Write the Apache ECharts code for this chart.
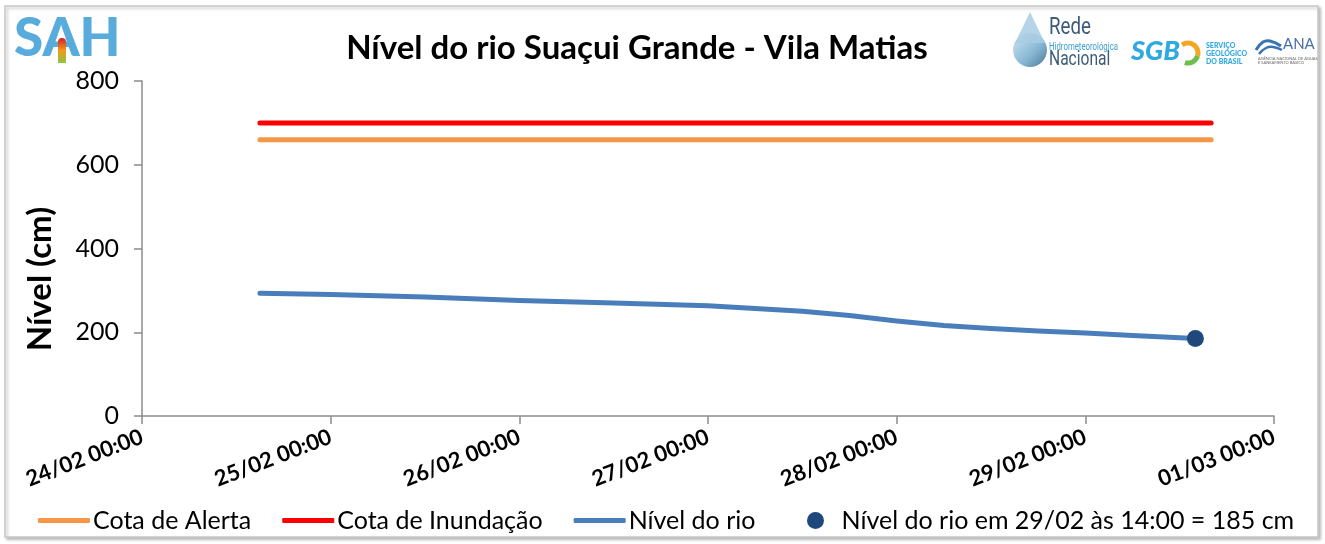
<!DOCTYPE html>
<html>
<head>
<meta charset="utf-8">
<script src="https://cdn.jsdelivr.net/npm/echarts@6/dist/echarts.min.js"></script>
<style>
html,body{margin:0;padding:0;background:#fff;}
#chart{width:1325px;height:544px;}
</style>
</head>
<body>
<div id="chart"></div>
<script>
// ---- Data ----
const titleText = 'Nível do rio Suaçui Grande - Vila Matias';
const yAxisTitle = 'Nível (cm)';
const xTickStart = '2024-02-24 00:00';
const xTickEnd = '2024-03-01 00:00';
const yTicks = [0, 200, 400, 600, 800];

const nivelTimes = ['2024-02-24 15:00','2024-02-25 00:00','2024-02-25 12:00','2024-02-26 00:00','2024-02-26 12:00',
  '2024-02-27 00:00','2024-02-27 06:00','2024-02-27 12:00','2024-02-27 18:00','2024-02-28 00:00',
  '2024-02-28 06:00','2024-02-28 12:00','2024-02-28 18:00','2024-02-29 00:00','2024-02-29 06:00','2024-02-29 14:00'];
const nivelValues = [293, 290, 284, 276, 270, 263, 257, 250, 240, 227, 216, 209, 203, 198, 192, 185];

const cotaTimes = ['2024-02-24 15:00', '2024-02-29 16:00'];
const cotaAlerta = [660, 660];
const cotaInundacao = [700, 700];

const ultimaTime = '2024-02-29 14:00';
const ultimaValue = 185;

const legendNames = ['Cota de Alerta', 'Cota de Inundação', 'Nível do rio', 'Nível do rio em 29/02 às 14:00 = 185 cm'];

// ---- Helpers ----
function ts(s) { return Date.parse(s.replace(' ', 'T') + ':00Z'); }
function pad(n) { return (n < 10 ? '0' : '') + n; }
function fmt(v) {
  const d = new Date(v);
  return pad(d.getUTCDate()) + '/' + pad(d.getUTCMonth() + 1) + ' ' + pad(d.getUTCHours()) + ':' + pad(d.getUTCMinutes());
}
const DAY = 86400000;

const chart = echarts.init(document.getElementById('chart'), null, {renderer: 'canvas'});
const F = 'Lato, "Open Sans", sans-serif';

const option = {
  backgroundColor: '#fff',
  animation: false,
  title: {
    text: titleText,
    left: 632, textAlign: 'center', top: 27,
    textStyle: {fontFamily: F, fontWeight: 'bold', fontSize: 33, color: '#000'}
  },
  grid: {left: 142, right: 51, top: 81, bottom: 128},
  xAxis: {
    type: 'value',
    min: ts(xTickStart), max: ts(xTickEnd), interval: DAY,
    axisLine: {show: true, lineStyle: {color: '#8c8c8c', width: 1.5}},
    axisTick: {show: true, length: 8, lineStyle: {color: '#8c8c8c', width: 1.5}},
    splitLine: {show: false},
    axisLabel: {
      rotate: 21, margin: 20, formatter: fmt,
      fontFamily: F, fontWeight: 'bold', fontSize: 22, color: '#000'
    }
  },
  yAxis: {
    type: 'value', min: yTicks[0], max: yTicks[yTicks.length - 1], interval: 200,
    axisLine: {show: true, lineStyle: {color: '#8c8c8c', width: 1.5}},
    axisTick: {show: true, length: 8, lineStyle: {color: '#8c8c8c', width: 1.5}},
    splitLine: {show: false},
    axisLabel: {margin: 23, fontFamily: F, fontSize: 25, color: '#000'}
  },
  legend: [{
    left: 33, bottom: 6,
    itemWidth: 52, itemHeight: 5, itemGap: 31,
    icon: 'roundRect',
    data: legendNames.slice(0, 3),
    textStyle: {fontFamily: F, fontSize: 25, color: '#000', padding: [0, 0, 0, -2]}
  }, {
    left: 802, bottom: 6,
    itemWidth: 26, itemHeight: 17,
    icon: 'circle',
    data: [legendNames[3]],
    textStyle: {fontFamily: F, fontSize: 25, color: '#000', padding: [0, 0, 0, 8]}
  }],
  series: [
    {
      name: legendNames[0], type: 'line', symbol: 'none',
      data: cotaTimes.map((t, i) => [ts(t), cotaAlerta[i]]),
      lineStyle: {color: '#F79646', width: 5, cap: 'round'}, itemStyle: {color: '#F79646'}
    },
    {
      name: legendNames[1], type: 'line', symbol: 'none',
      data: cotaTimes.map((t, i) => [ts(t), cotaInundacao[i]]),
      lineStyle: {color: '#FF0000', width: 5, cap: 'round'}, itemStyle: {color: '#FF0000'}
    },
    {
      name: legendNames[2], type: 'line', symbol: 'none', smooth: false,
      data: nivelTimes.map((t, i) => [ts(t), nivelValues[i]]),
      lineStyle: {color: '#4A7EBB', width: 5, cap: 'round', join: 'round'}, itemStyle: {color: '#4A7EBB'}
    },
    {
      name: legendNames[3], type: 'scatter', symbol: 'circle', symbolSize: 17,
      data: [[ts(ultimaTime), ultimaValue]],
      itemStyle: {color: '#1F497D', opacity: 1}, z: 5
    }
  ],
  graphic: [
    // outer border
    {type: 'rect', z: -10, silent: true,
      shape: {x: 5, y: 6, width: 1313, height: 531},
      style: {fill: '#fff', stroke: '#c8c8c8', lineWidth: 1.5, shadowBlur: 3, shadowOffsetX: 2, shadowOffsetY: 2, shadowColor: 'rgba(0,0,0,0.25)'}},
    // y axis title
    {type: 'text', x: 40, y: 279, rotation: Math.PI / 2, silent: true,
      style: {text: yAxisTitle, fontFamily: F, fontWeight: 'bold', fontSize: 33, fill: '#000', align: 'center', verticalAlign: 'middle'}},
    // SAH logo
    {type: 'text', x: 14, y: 12, silent: true,
      style: {text: 'SAH', fontFamily: F, fontWeight: 900, fontSize: 53, fill: '#58ACDC'}},
    {type: 'rect', silent: true, shape: {x: 58, y: 38, width: 8, height: 25, r: [4, 4, 0, 0]},
      style: {fill: new echarts.graphic.LinearGradient(0, 0, 0, 1, [
        {offset: 0, color: '#d0202a'}, {offset: 0.5, color: '#f29a1d'}, {offset: 1, color: '#8cc63f'}])}},
    // Rede Hidrometeorológica Nacional - drop
    {type: 'circle', silent: true, shape: {cx: 1030, cy: 50, r: 17},
      style: {fill: new echarts.graphic.LinearGradient(0, 0, 1, 1, [
        {offset: 0, color: '#c9e3f2'}, {offset: 0.6, color: '#6fa8c9'}, {offset: 1, color: '#2c5d7e'}]), opacity: 0.85}},
    {type: 'polygon', silent: true, shape: {points: [[1030, 12], [1045, 43], [1015, 43]]},
      style: {fill: '#a8cde3', opacity: 0.85}},
    {type: 'text', x: 1049, y: 16, silent: true, scaleX: 0.78,
      style: {text: 'Rede', fontFamily: 'Roboto, sans-serif', fontSize: 24, fill: '#3b5b78'}},
    {type: 'text', x: 1049, y: 42, silent: true, scaleX: 0.78,
      style: {text: 'Hidrometeorológica', fontFamily: 'Roboto, sans-serif', fontSize: 10, fill: '#3d9ed3'}},
    {type: 'text', x: 1049, y: 50, silent: true, scaleX: 0.78,
      style: {text: 'Nacional', fontFamily: 'Roboto, sans-serif', fontSize: 20, fill: '#3b5b78'}},
    // SGB
    {type: 'text', x: 1131, y: 38, silent: true,
      style: {text: 'SGB', fontFamily: F, fontWeight: 900, fontStyle: 'italic', fontSize: 27, fill: '#2fa9e1'}},
    {type: 'arc', silent: true, shape: {cx: 1188, cy: 53, r: 10, startAngle: -Math.PI * 0.7, endAngle: Math.PI * 0.1},
      style: {stroke: '#f5a623', lineWidth: 5, fill: null}},
    {type: 'arc', silent: true, shape: {cx: 1188, cy: 53, r: 10, startAngle: Math.PI * 0.1, endAngle: Math.PI * 0.6},
      style: {stroke: '#6cbf4b', lineWidth: 5, fill: null}},
    {type: 'text', x: 1206, y: 42, silent: true,
      style: {text: 'SERVIÇO\nGEOLÓGICO\nDO BRASIL', fontFamily: F, fontWeight: 900, fontSize: 7, lineHeight: 8, fill: '#2fa9e1'}},
    // ANA
    {type: 'polyline', silent: true, shape: {points: [[1256, 50], [1263, 42], [1270, 41], [1281, 46]], smooth: 0.5},
      style: {stroke: '#3a73b5', lineWidth: 3, fill: null}},
    {type: 'polyline', silent: true, shape: {points: [[1259, 54], [1266, 48], [1273, 47], [1282, 50]], smooth: 0.5},
      style: {stroke: '#3a73b5', lineWidth: 2.5, fill: null}},
    {type: 'text', x: 1283, y: 37, silent: true,
      style: {text: 'ANA', fontFamily: F, fontSize: 15, fill: '#4a6fa5'}},
    {type: 'text', x: 1258, y: 57, silent: true,
      style: {text: 'AGÊNCIA NACIONAL DE ÁGUAS\nE SANEAMENTO BÁSICO', fontFamily: F, fontSize: 4, lineHeight: 4, fill: '#666'}}
  ]
};
chart.setOption(option);
</script>
</body>
</html>
